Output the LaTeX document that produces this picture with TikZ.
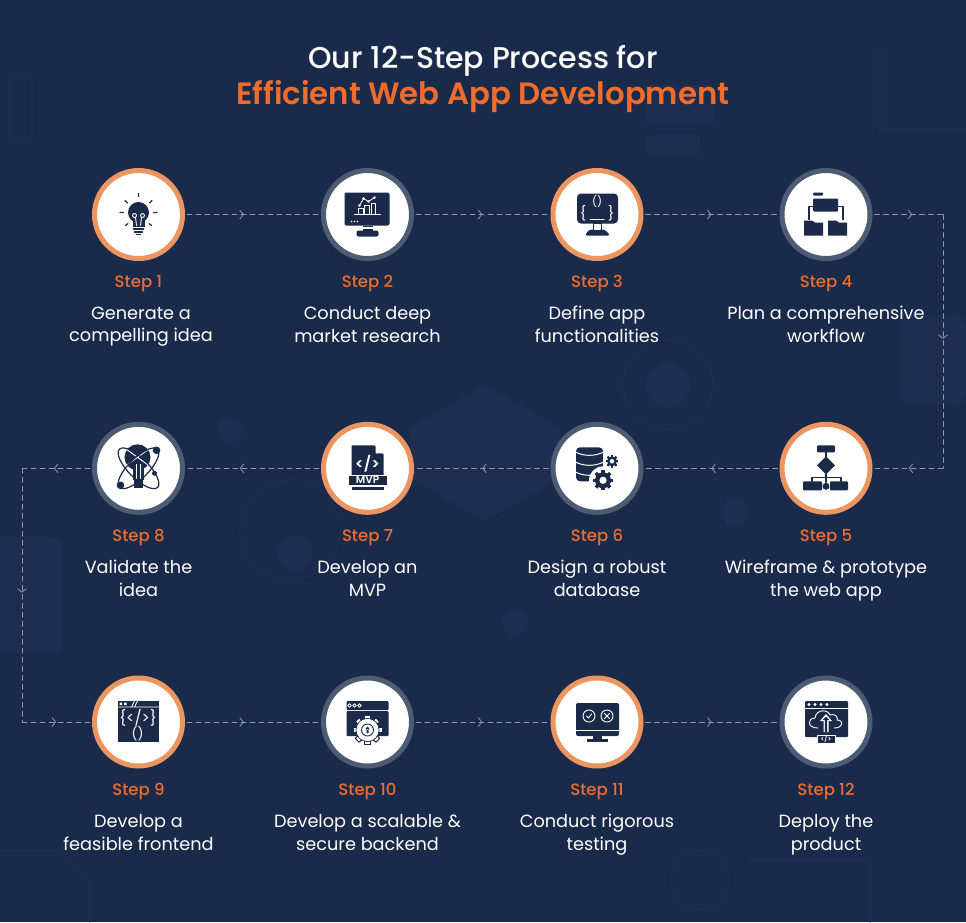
\documentclass[tikz,border=0pt]{standalone}
\usepackage{fontspec}
\setmainfont{Poppins}[BoldFont={Poppins SemiBold}]
\newfontfamily\medfont{Poppins Medium}
\usetikzlibrary{arrows.meta,decorations.markings}
\definecolor{bgcol}{HTML}{1A2A4A}
\definecolor{faintcol}{HTML}{1D2E50}
\definecolor{navy}{HTML}{1B2A49}
\definecolor{orangetxt}{HTML}{EF6C2C}
\definecolor{orangering}{HTML}{EC9560}
\definecolor{grayring}{HTML}{4D5B73}
\definecolor{linkcol}{HTML}{8D99AE}
\tikzset{
	ringorange/.style={circle,draw=orangering,fill=white,line width=5pt,minimum size=88pt,outer sep=4.5pt,inner sep=0pt},
	ringgray/.style={circle,draw=grayring,fill=white,line width=5pt,minimum size=88pt,outer sep=4.5pt,inner sep=0pt},
	steplabel/.style={text=orangetxt,text height=12pt,text depth=4pt,font=\fontsize{16.5}{20}\selectfont\medfont},
	desclabel/.style={text=white,align=center,execute at begin node=\strut,execute at end node=\strut,font=\fontsize{17.7}{22.5}\selectfont},
	midarrow/.style={postaction={decorate,decoration={markings,mark=at position #1 with {\arrow[solid,line width=.8pt]{Straight Barb[length=3.5pt,width=9pt]}}}}},
	link/.style={draw=linkcol,line width=.8pt,dash pattern=on 5pt off 4pt},
	faint/.style={draw=faintcol,line width=1.2pt},
	icontext/.style={text=white,inner sep=0pt},
}
% gear: x, y, radius, colour of the hole
\newcommand{\gearicon}[4]{
	\foreach \t in {0,45,...,315}
		\fill[navy,rotate around={\t:(#1,#2)}] (#1-.2*#3,#2-#3*1.25) rectangle (#1+.2*#3,#2+#3*1.25);
	\fill[navy] (#1,#2) circle(#3);
	\fill[#4] (#1,#2) circle(.45*#3);
}
\begin{document}
\begin{tikzpicture}[x=1pt,y=-1pt,line join=round,line cap=round]
	\def\xa{138.5} \def\xb{367.5} \def\xc{597} \def\xd{826}
	\def\ya{214.5} \def\yb{468.3} \def\yc{722}
	\useasboundingbox (0,0) rectangle (966,922);
	\fill[bgcol] (0,0) rectangle (966,922);
	% faint circuit background
	\fill[faintcol] (485,385)--(560,428)--(560,478)--(485,521)--(410,478)--(410,428)--cycle;
	\fill[faintcol] (735,512) circle(14);
	\fill[faintcol] (515,622) circle(13);
	\fill[faintcol] (295,553) circle(17);
	\fill[faintcol] (230,430) circle(13);
	\fill[faintcol] (668,385) circle(22);
	\fill[faintcol,rounded corners=14pt] (900,315) rectangle (966,405);
	\fill[faintcol,rounded corners=8pt] (-10,537) rectangle (62,653);
	\fill[faintcol,rounded corners=4pt] (645,85) rectangle (715,125);
	\fill[faintcol,rounded corners=4pt] (645,135) rectangle (700,155);
	\draw[faint] (290,530) circle(50);
	\draw[faint] (668,385) circle(45);
	\draw[faint,rounded corners=3pt] (10,77) rectangle (32,140);
	\draw[faint] (880,50)--(880,130)--(966,130);
	\draw[faint] (0,850)--(60,850)--(90,880)--(90,922);
	\draw[faint] (700,880) circle(30);
	\draw[faint] (750,860)--(870,860)--(870,922);
	% title
	\node[text=white,text height=24pt,text depth=8pt,font=\fontsize{30}{34}\selectfont\medfont] (title) at (483,60) {Our 12-Step Process for};
	\node[text=orangetxt,text height=24pt,text depth=8pt,font=\fontsize{30.8}{34}\selectfont\bfseries] (subtitle) at (483,96) {Efficient Web App Development};
	% circles
	\node[ringorange] (s1) at (\xa,\ya) {};
	\node[ringgray] (s2) at (\xb,\ya) {};
	\node[ringorange] (s3) at (\xc,\ya) {};
	\node[ringgray] (s4) at (\xd,\ya) {};
	\node[ringorange] (s5) at (\xd,\yb) {};
	\node[ringgray] (s6) at (\xc,\yb) {};
	\node[ringorange] (s7) at (\xb,\yb) {};
	\node[ringgray] (s8) at (\xa,\yb) {};
	\node[ringorange] (s9) at (\xa,\yc) {};
	\node[ringgray] (s10) at (\xb,\yc) {};
	\node[ringorange] (s11) at (\xc,\yc) {};
	\node[ringgray] (s12) at (\xd,\yc) {};
	\coordinate (ca) at (943,\ya);
	\coordinate (cb) at (943,\yb);
	\coordinate (cc) at (22,\yb);
	\coordinate (cd) at (22,\yc);
	% links
	\draw[link,midarrow=.43] (s1)--(s2);
	\draw[link,midarrow=.5] (s2)--(s3);
	\draw[link,midarrow=.5] (s3)--(s4);
	\draw[link,midarrow=.55] (s4)--(ca);
	\draw[link,midarrow=.49] (ca)--(cb);
	\draw[link,midarrow=.5] (cb)--(s5);
	\draw[link,midarrow=.5] (s5)--(s6);
	\draw[link,midarrow=.5] (s6)--(s7);
	\draw[link,midarrow=.6] (s7)--(s8);
	\draw[link,midarrow=.53] (s8)--(cc);
	\draw[link,midarrow=.49] (cc)--(cd);
	\draw[link,midarrow=.5] (cd)--(s9);
	\draw[link,midarrow=.43] (s9)--(s10);
	\draw[link,midarrow=.5] (s10)--(s11);
	\draw[link,midarrow=.5] (s11)--(s12);
	% labels
	\node[steplabel] (l1) at (\xa,283) {Step 1};
	\node[steplabel] (l2) at (\xb,283) {Step 2};
	\node[steplabel] (l3) at (\xc,283) {Step 3};
	\node[steplabel] (l4) at (\xd,283) {Step 4};
	\node[steplabel] (l5) at (\xd,537) {Step 5};
	\node[steplabel] (l6) at (\xc,537) {Step 6};
	\node[steplabel] (l7) at (\xb,537) {Step 7};
	\node[steplabel] (l8) at (\xa,537) {Step 8};
	\node[steplabel] (l9) at (\xa,791) {Step 9};
	\node[steplabel] (l10) at (\xb,791) {Step 10};
	\node[steplabel] (l11) at (\xc,791) {Step 11};
	\node[steplabel] (l12) at (\xd,791) {Step 12};
	\node[desclabel] (d1) at (141,327.7) {Generate a\\compelling idea};
	\node[desclabel] (d2) at (\xb,327.7) {Conduct deep\\market research};
	\node[desclabel] (d3) at (\xc,327.7) {Define app\\functionalities};
	\node[desclabel] (d4) at (\xd,327.7) {Plan a comprehensive\\workflow};
	\node[desclabel] (d5) at (\xd,581.7) {Wireframe \& prototype\\the web app};
	\node[desclabel] (d6) at (\xc,581.7) {Design a robust\\database};
	\node[desclabel] (d7) at (\xb,581.7) {Develop an\\MVP};
	\node[desclabel] (d8) at (\xa,581.7) {Validate the\\idea};
	\node[desclabel] (d9) at (\xa,835.7) {Develop a\\feasible frontend};
	\node[desclabel] (d10) at (\xb,835.7) {Develop a scalable \&\\secure backend};
	\node[desclabel] (d11) at (\xc,835.7) {Conduct rigorous\\testing};
	\node[desclabel] (d12) at (\xd,835.7) {Deploy the\\product};
	% icon 1: bulb
	\begin{scope}[shift={(\xa,\ya)}]
		\fill[navy] (0,-2) circle(10.5);
		\fill[navy] (-6,3) rectangle (6,12);
		\draw[navy,line width=1.6pt] (-5,14.5)--(5,14.5) (-4,17.5)--(4,17.5) (-2,20)--(2,20);
		\draw[navy,line width=1.2pt] (0,-21)--(0,-18) (-18.5,-2)--(-15,-2) (15,-2)--(18.5,-2) (-13.5,-14)--(-11,-11.5) (13.5,-14)--(11,-11.5) (-13,11)--(-10.5,9) (13,11)--(10.5,9);
		\draw[white,line width=.9pt] (-4,1) circle(2) (4,1) circle(2) (-3,3)--(-2,11) (3,3)--(2,11);
	\end{scope}
	% icon 2: monitor with chart
	\begin{scope}[shift={(\xb,\ya)}]
		\fill[navy,rounded corners=2pt] (-23,-22) rectangle (22,11);
		\fill[navy] (-5,11) rectangle (5,17);
		\fill[white] (-5,12) rectangle (5,14);
		\fill[navy,rounded corners=2pt] (-11,16) rectangle (11,22);
		\draw[white,line width=.8pt] (-13,0)--(13,0) (-9,0)--(-9,-6)--(-4,-6)--(-4,0) (-3,0)--(-3,-9)--(2,-9)--(2,0) (4,0)--(4,-11)--(8,-11)--(8,0);
		\draw[white,line width=.8pt] (-8,-9)--(-4,-16)--(1,-13)--(7,-17);
		\fill[white] (-8,-9) circle(1.3) (-4,-16) circle(1.3) (1,-13) circle(1.3) (7,-17) circle(1.3);
		\fill[white] (-16,7) circle(.9) (-13,7) circle(.9) (-10,7) circle(.9);
	\end{scope}
	% icon 3: monitor with braces
	\begin{scope}[shift={(\xc,\ya)}]
		\fill[navy,rounded corners=4pt] (-20,-21) rectangle (21,9);
		\draw[navy,line width=1pt,fill=white] (-4,9) rectangle (4,16);
		\fill[navy,rounded corners=2pt] (-12,21)--(-8,15)--(8,15)--(13,21)--cycle;
		\fill[white] (-3,10) rectangle (3,15);
		\node[icontext,font=\fontsize{11}{11}\selectfont] (code3a) at (0,-13) {()};
		\node[icontext,font=\fontsize{14}{14}\selectfont] (code3b) at (-14,-1) {\{};
		\node[icontext,font=\fontsize{14}{14}\selectfont] (code3c) at (14,-1) {\}};
		\draw[white,line width=1pt] (-7,5)--(7,5);
	\end{scope}
	% icon 4: folders
	\begin{scope}[shift={(\xd,\ya)}]
		\fill[navy,rounded corners=1pt] (-13,-16) rectangle (12,-3);
		\fill[navy,rounded corners=1pt] (-13,-22) rectangle (-3,-19);
		\draw[navy,line width=1.8pt] (-13,-8)--(-17,-8)--(-17,5) (12,-8)--(17,-8)--(17,5);
		\fill[navy] (-22,6)--(-14,6)--(-11,8)--(-3,8)--(-3,21)--(-22,21)--cycle;
		\fill[navy] (2,6)--(10,6)--(13,8)--(21,8)--(21,21)--(2,21)--cycle;
	\end{scope}
	% icon 5: flow chart
	\begin{scope}[shift={(\xd,\yb)}]
		\fill[navy,rounded corners=1pt] (-9,-23) rectangle (9,-16);
		\fill[navy] (0,-12)--(9,-3)--(0,6)--(-9,-3)--cycle;
		\draw[navy,line width=1.5pt] (0,-16)--(0,14) (-14,13)--(-14,9)--(15,9)--(15,13);
		\fill[navy,rounded corners=1pt] (-23,13) rectangle (-4,22);
		\fill[navy,rounded corners=1pt] (4,13) rectangle (22,22);
		\fill[navy] (0,18) circle(3.5);
	\end{scope}
	% icon 6: database and gears
	\begin{scope}[shift={(\xc,\yb)}]
		\fill[navy,rounded corners=4pt] (-21,-21) rectangle (6,13);
		\draw[white,line width=1pt] (-21,-16) .. controls (-13,-12) and (-2,-12) .. (6,-16) (-21,-6) .. controls (-13,-2) and (-2,-2) .. (6,-6) (-21,4) .. controls (-13,8) and (-2,8) .. (6,4);
		\fill[white] (6,12) circle(14);
		\gearicon{6}{12}{8}{white}
		\fill[white] (15,-7) circle(9);
		\gearicon{15}{-7}{5}{white}
	\end{scope}
	% icon 7: mvp document
	\begin{scope}[shift={(\xb,\yb)}]
		\fill[navy] (-16,-23)--(7,-23)--(16,-14)--(16,7)--(-16,7)--cycle;
		\fill[white] (8,-23)--(16,-15)--(8,-15)--cycle;
		\fill[navy] (-19,7) rectangle (19,17);
		\draw[white,line width=.8pt] (-19,7)--(19,7);
		\fill[navy] (-16,18.5) rectangle (16,22);
		\node[icontext,font=\fontsize{15}{15}\selectfont\bfseries] (code7) at (0,-5) {</>};
		\node[icontext,font=\fontsize{10.5}{11}\selectfont\bfseries] (mvp7) at (0,12) {MVP};
	\end{scope}
	% icon 8: bulb with orbits
	\begin{scope}[shift={(\xa,\yb)}]
		\fill[navy] (-1,-11) circle(13);
		\fill[navy] (-6,-3) rectangle (5,12);
		\fill[navy] (-5,12) rectangle (4,20);
		\draw[white,line width=.9pt] (-2,-4)--(-2,10) (2,-4)--(2,10) (-12,-19)--(10,-3) (10,-19)--(-12,-3);
		\draw[navy,line width=1.2pt,rotate=45] (0,0) ellipse(27 and 10);
		\draw[navy,line width=1.2pt,rotate=-45] (0,0) ellipse(27 and 10);
		\fill[navy] (18,-18) circle(3.8) (-18,17) circle(3.8) (16,5) circle(2.5);
	\end{scope}
	% icon 9: code window
	\begin{scope}[shift={(\xa,\yc)}]
		\fill[navy] (-21,-21) rectangle (20,20);
		\draw[white,line width=.8pt] (-21,-15)--(20,-15) (-7,-15)--(-4,-21) (-4,-15)--(-1,-21);
		\fill[white] (-19,-19.5) rectangle (-16.5,-17) (-14.5,-19.5) rectangle (-12,-17);
		\node[icontext,font=\fontsize{15}{15}\selectfont] (code9a) at (-.5,-4) {\{</>\}};
		\node[icontext,font=\fontsize{13}{13}\selectfont] (code9b) at (-1,12) {()};
	\end{scope}
	% icon 10: gear window
	\begin{scope}[shift={(\xb,\yc)}]
		\fill[navy,rounded corners=1pt] (-21,-21) rectangle (21,-12);
		\fill[navy,rounded corners=1pt] (-21,-11) rectangle (21,14);
		\draw[white,line width=.8pt] (-18,-16.5) circle(1.8) (-13,-16.5) circle(1.8) (-8,-16.5) circle(1.8);
		\foreach \t in {0,45,...,315}
			\draw[navy,fill=white,line width=.9pt,rotate around={\t:(0,8)}] (-2.6,-6.5) rectangle (2.6,22.5);
		\draw[navy,fill=white,line width=.9pt] (0,8) circle(11.5);
		\fill[white] (0,8) circle(11);
		\draw[navy,line width=.9pt] (0,8) circle(6);
		\fill[navy] (0,6.5) circle(1.8) (-1,7) rectangle (1,11);
	\end{scope}
	% icon 11: test monitor
	\begin{scope}[shift={(\xc,\yc)}]
		\fill[navy,rounded corners=2pt] (-21,-19) rectangle (22,14);
		\draw[white,line width=.8pt] (-21,8)--(22,8);
		\draw[white,line width=.9pt] (-8,-6) circle(6) (10,-6) circle(6);
		\draw[white,line width=.9pt] (-10.5,-6)--(-8.5,-4)--(-5.5,-8) (7.5,-8.5)--(12.5,-3.5) (12.5,-8.5)--(7.5,-3.5);
		\fill[navy] (-4,14) rectangle (5,17.5);
		\fill[navy] (-10,17) rectangle (11,19.5);
	\end{scope}
	% icon 12: cloud deploy window
	\begin{scope}[shift={(\xd,\yc)}]
		\fill[navy,rounded corners=1pt] (-21,-21) rectangle (22,15);
		\draw[white,line width=.8pt] (-21,-14)--(22,-14);
		\fill[white] (-17,-17.5) circle(1.6) (-11,-17.5) circle(1.6) (-5,-17.5) circle(1.6) (1,-17.5) circle(1.6);
		\draw[white,line width=.9pt] (-8,6) .. controls (-19,6) and (-19,-4) .. (-11,-4) .. controls (-10,-13) and (2,-13) .. (4,-7) .. controls (11,-9) and (12,-3) .. (11,-2) .. controls (18,-2) and (18,6) .. (8,6);
		\fill[white] (0,-8)--(6,-1)--(2.5,-1)--(2.5,10)--(-2.5,10)--(-2.5,-1)--(-6,-1)--cycle;
		\fill[navy] (0,-5.5)--(3.5,-2)--(1.2,-2)--(1.2,10)--(-1.2,10)--(-1.2,-2)--(-3.5,-2)--cycle;
		\draw[white,line width=.8pt,fill=navy] (-9,13) rectangle (9,21);
		\node[icontext,font=\fontsize{6.5}{7}\selectfont\bfseries] (code12) at (0,17) {</>};
	\end{scope}
\end{tikzpicture}
\end{document}
